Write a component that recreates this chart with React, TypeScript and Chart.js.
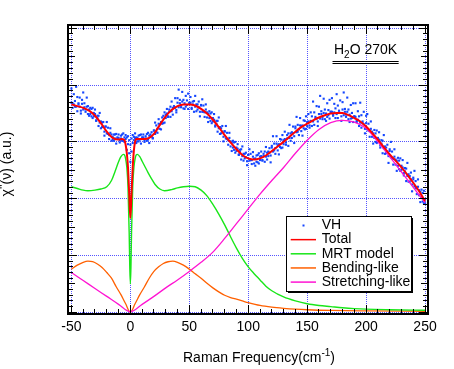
import React, { useEffect, useRef } from "react";
import { Chart, registerables } from "chart.js";

Chart.register(...registerables);

const FONT = "'Liberation Sans', Arial, Helvetica, sans-serif";
const BLUE = "#1446ff";
const RED = "#ff0000";
const GREEN = "#19e619";
const ORANGE = "#ff6000";
const MAGENTA = "#ff14d2";
const GRID = "#5555ff";

// axis ticks / grid
const xTickValues = [-50, 0, 50, 100, 150, 200, 250];
const yGridValues = [0, 1, 2, 3, 4, 5];

// texts
const xTitleMain = "Raman Frequency(cm";
const xTitleSup = "-1";
const xTitleEnd = ")";
const yTitleMain = "\u03c7";
const yTitleSup = "''";
const yTitleEnd = "(\u03bd) (a.u.)";
const sampleA = "H";
const sampleSub = "2";
const sampleB = "O 270K";

// VH measured spectrum (two samples per frequency)
const vhX = [
  -50,-49,-48,-47,-46,-45,-44,-43,-42,-41,-40,-39,-38,-37,-36,-35,-34,-33,-32,-31,
  -30,-29,-28,-27,-26,-25,-24,-23,-22,-21,-20,-19,-18,-17,-16,-15,-14,-13,-12,-11,
  -10,-9,-8,-7,-6,-5,-4,-3,-2,-1,0,1,2,3,4,5,6,7,8,9,
  10,11,12,13,14,15,16,17,18,19,20,21,22,23,24,25,26,27,28,29,
  30,31,32,33,34,35,36,37,38,39,40,41,42,43,44,45,46,47,48,49,
  50,51,52,53,54,55,56,57,58,59,60,61,62,63,64,65,66,67,68,69,
  70,71,72,73,74,75,76,77,78,79,80,81,82,83,84,85,86,87,88,89,
  90,91,92,93,94,95,96,97,98,99,100,101,102,103,104,105,106,107,108,109,
  110,111,112,113,114,115,116,117,118,119,120,121,122,123,124,125,126,127,128,129,
  130,131,132,133,134,135,136,137,138,139,140,141,142,143,144,145,146,147,148,149,
  150,151,152,153,154,155,156,157,158,159,160,161,162,163,164,165,166,167,168,169,
  170,171,172,173,174,175,176,177,178,179,180,181,182,183,184,185,186,187,188,189,
  190,191,192,193,194,195,196,197,198,199,200,201,202,203,204,205,206,207,208,209,
  210,211,212,213,214,215,216,217,218,219,220,221,222,223,224,225,226,227,228,229,
  230,231,232,233,234,235,236,237,238,239,240,241,242,243,244,245,246,247,248,249,
  250,
];
const vhA = [
  3.69,3.60,3.66,3.72,3.62,3.54,3.66,3.62,3.55,3.67,3.57,3.68,3.57,3.62,3.49,3.57,3.49,3.58,3.42,3.51,
  3.49,3.38,3.42,3.46,3.34,3.24,3.34,3.27,3.18,3.27,3.15,3.25,3.12,3.16,3.02,3.09,3.02,3.13,2.97,3.08,
  3.07,2.99,3.06,3.13,3.02,3.00,3.05,2.86,2.96,2.80,2.65,2.83,2.98,3.03,3.07,2.98,3.07,3.01,3.12,2.97,
  3.08,3.08,3.00,3.06,3.14,3.04,2.98,3.13,3.10,3.06,3.20,3.14,3.29,3.23,3.32,3.23,3.35,3.32,3.46,3.34,
  3.48,3.50,3.45,3.53,3.62,3.54,3.48,3.63,3.60,3.56,3.69,3.61,3.74,3.64,3.71,3.59,3.68,3.62,3.73,3.58,
  3.69,3.69,3.60,3.66,3.72,3.62,3.54,3.66,3.61,3.53,3.64,3.53,3.64,3.52,3.57,3.43,3.50,3.42,3.50,3.33,
  3.42,3.39,3.29,3.32,3.37,3.24,3.14,3.24,3.18,3.09,3.18,3.06,3.16,3.03,3.07,2.92,2.99,2.90,2.99,2.81,
  2.90,2.88,2.78,2.82,2.87,2.75,2.67,2.79,2.73,2.66,2.77,2.67,2.79,2.68,2.74,2.62,2.71,2.65,2.77,2.62,
  2.74,2.75,2.68,2.75,2.83,2.74,2.69,2.83,2.81,2.76,2.90,2.83,2.97,2.89,2.97,2.85,2.96,2.91,3.04,2.90,
  3.03,3.05,2.99,3.06,3.15,3.07,3.02,3.17,3.15,3.10,3.24,3.17,3.30,3.22,3.29,3.19,3.29,3.24,3.37,3.23,
  3.35,3.36,3.29,3.37,3.45,3.36,3.30,3.44,3.41,3.36,3.49,3.41,3.54,3.44,3.51,3.40,3.50,3.44,3.56,3.41,
  3.53,3.53,3.46,3.52,3.59,3.49,3.42,3.55,3.51,3.45,3.57,3.47,3.58,3.48,3.53,3.40,3.48,3.41,3.51,3.35,
  3.45,3.44,3.35,3.39,3.45,3.34,3.25,3.36,3.31,3.23,3.33,3.22,3.32,3.19,3.23,3.09,3.15,3.07,3.15,2.98,
  3.07,3.04,2.94,2.97,3.02,2.89,2.79,2.90,2.83,2.75,2.84,2.73,2.83,2.70,2.74,2.60,2.67,2.58,2.67,2.49,
  2.58,2.55,2.45,2.48,2.53,2.40,2.30,2.40,2.34,2.25,2.34,2.22,2.31,2.18,2.21,2.06,2.12,2.02,2.10,1.92,
  1.99,
];
const vhB = [
  3.94,3.68,3.84,3.62,3.97,3.79,3.68,3.78,3.50,3.74,3.87,3.61,3.53,3.78,3.63,3.46,3.60,3.45,3.60,3.45,
  3.57,3.37,3.46,3.28,3.51,3.36,3.26,3.35,3.11,3.27,3.35,3.14,3.05,3.24,3.13,3.04,3.13,3.06,3.14,3.06,
  3.13,3.03,3.11,3.02,3.15,3.08,3.12,3.08,3.10,3.03,2.95,3.06,3.12,3.09,3.15,3.08,3.01,3.11,3.04,3.13,
  3.05,3.13,3.03,3.10,3.02,3.16,3.11,3.09,3.17,3.07,3.20,3.34,3.18,3.16,3.40,3.31,3.22,3.43,3.33,3.52,
  3.42,3.58,3.44,3.57,3.44,3.71,3.60,3.60,3.77,3.52,3.77,3.92,3.68,3.61,3.88,3.74,3.58,3.81,3.65,3.85,
  3.68,3.79,3.58,3.71,3.53,3.81,3.66,3.57,3.71,3.45,3.65,3.75,3.53,3.44,3.66,3.52,3.35,3.54,3.37,3.52,
  3.36,3.49,3.27,3.37,3.18,3.43,3.26,3.15,3.28,3.01,3.19,3.28,3.05,2.95,3.16,3.01,2.84,3.02,2.86,3.00,
  2.84,2.96,2.77,2.86,2.69,2.92,2.79,2.71,2.81,2.59,2.77,2.87,2.68,2.61,2.82,2.70,2.58,2.76,2.64,2.80,
  2.68,2.83,2.67,2.79,2.65,2.91,2.81,2.75,2.89,2.64,2.93,3.10,2.85,2.79,3.10,2.94,2.78,3.05,2.89,3.12,
  2.96,3.18,2.95,3.12,2.93,3.30,3.15,3.07,3.27,2.98,3.27,3.44,3.18,3.12,3.42,3.28,3.11,3.38,3.22,3.45,
  3.28,3.49,3.25,3.52,3.28,3.71,3.52,3.41,3.63,3.28,3.62,3.81,3.49,3.40,3.76,3.57,3.37,3.68,3.47,3.74,
  3.53,3.77,3.48,3.67,3.42,3.84,3.64,3.52,3.73,3.37,3.70,3.87,3.53,3.44,3.78,3.57,3.35,3.65,3.42,3.68,
  3.45,3.68,3.37,3.54,3.28,3.69,3.47,3.33,3.53,3.15,3.46,3.49,3.20,3.09,3.36,3.18,2.97,3.21,3.00,3.20,
  3.00,3.17,2.90,3.03,2.80,3.12,2.92,2.80,2.95,2.63,2.87,3.00,2.71,2.60,2.87,2.69,2.49,2.72,2.52,2.71,
  2.51,2.68,2.41,2.54,2.31,2.63,2.43,2.30,2.46,2.13,2.37,2.49,2.19,2.08,2.34,2.15,1.94,2.16,1.95,2.14,
  1.92,
];

// Total fit
const totalX = [-50,-45,-40,-35,-30,-25,-20,-15,-10,-7,-5,-4,-3,-2,-1,0,1,2,3,4,5,8,12,16,20,
  25,30,35,40,45,50,55,60,65,70,75,80,85,90,95,100,105,110,115,120,125,130,135,140,145,150,
  155,160,165,170,175,180,185,190,195,200,205,210,215,220,225,230,235,240,245,250];
const totalY = [3.66,3.63,3.60,3.55,3.46,3.33,3.18,3.07,3.04,3.05,3.03,2.95,2.80,2.55,2.10,1.66,2.10,2.55,2.85,3.00,3.05,3.05,3.05,3.07,3.14,
  3.30,3.45,3.56,3.63,3.66,3.66,3.64,3.58,3.50,3.39,3.26,3.12,2.99,2.87,2.77,2.71,2.69,2.71,2.76,2.84,2.92,3.00,3.09,3.18,3.26,3.32,
  3.38,3.43,3.47,3.50,3.51,3.51,3.47,3.42,3.36,3.27,3.16,3.04,2.91,2.78,2.67,2.55,2.42,2.28,2.13,1.96];

// MRT model
const mrtX = [-50,-45,-40,-36,-30,-25,-20,-16,-13,-10,-8,-6,-5,-4,-3,-2,-1,-0.5,0,0.5,
  1,2,3,4,5,6,8,10,12,15,18,21,25,29,35,40,45,50,55,60,
  65,70,75,80,85,90,95,100,105,110,115,120,130,140,150,160,170,180,190,200,220,250];
const mrtY = [2.21,2.18,2.15,2.14,2.15,2.17,2.21,2.32,2.48,2.65,2.74,2.78,2.77,2.70,2.55,2.20,1.40,0.80,0.50,0.80,
  1.40,2.20,2.55,2.70,2.77,2.78,2.74,2.66,2.58,2.46,2.35,2.25,2.17,2.14,2.16,2.19,2.21,2.22,2.21,2.15,
  2.05,1.90,1.73,1.54,1.33,1.13,0.95,0.80,0.68,0.57,0.46,0.38,0.27,0.20,0.15,0.12,0.10,0.08,0.065,0.055,0.045,0.035];

// Bending-like
const bendX = [-50,-45,-40,-36,-32,-28,-24,-20,-16,-12,-8,-4,0,4,8,12,16,20,24,28,32,36,
  40,45,50,55,60,65,70,75,80,85,90,95,100,110,120,130,140,150,170,200,250];
const bendY = [0.76,0.83,0.88,0.90,0.89,0.85,0.79,0.70,0.60,0.45,0.31,0.15,0.0,0.15,0.31,0.45,0.60,0.72,0.80,0.86,0.89,0.90,
  0.88,0.83,0.76,0.68,0.60,0.51,0.43,0.36,0.30,0.26,0.23,0.20,0.17,0.12,0.09,0.07,0.055,0.045,0.033,0.025,0.018];

// Stretching-like
const stretchX = [-50,-40,-30,-20,-10,0,10,20,30,40,50,60,70,80,90,100,110,120,130,140,150,160,170,180,190,200,210,220,230,240,250];
const stretchY = [0.70,0.56,0.42,0.28,0.14,0.01,0.14,0.28,0.43,0.57,0.72,0.88,1.06,1.30,1.56,1.82,2.08,2.32,2.55,2.80,3.03,3.22,3.34,3.38,3.35,3.24,3.00,2.74,2.47,2.20,1.93];

const zip = (xs: number[], ys: number[]) => xs.map((x, i) => ({ x, y: ys[i] }));

const gridPlugin = {
  id: "dotgrid",
  beforeDatasetsDraw(chart: any) {
    const { ctx, chartArea: a, scales } = chart;
    ctx.save();
    ctx.fillStyle = GRID;
    const top = Math.round(a.top);
    const bottom = Math.round(a.bottom);
    const left = Math.round(a.left);
    const right = Math.round(a.right);
    xTickValues.forEach((v) => {
      const px = Math.round(scales.x.getPixelForValue(v) - 0.5);
      for (let y = top; y < bottom; y += 2) ctx.fillRect(px, y, 1, 1);
    });
    yGridValues.forEach((v) => {
      const py = Math.round(scales.y.getPixelForValue(v) - 0.5);
      for (let x = left; x < right; x += 2) ctx.fillRect(x, py, 1, 1);
    });
    ctx.restore();
  },
};

const decorPlugin = {
  id: "decor",
  afterDatasetsDraw(chart: any) {
    const { ctx, chartArea: a, scales } = chart;
    const xs = scales.x;
    const ys = scales.y;
    ctx.save();
    const line = (x1: number, y1: number, x2: number, y2: number) => {
      ctx.beginPath();
      ctx.moveTo(x1, y1);
      ctx.lineTo(x2, y2);
      ctx.stroke();
    };
    // ticks (inward)
    ctx.strokeStyle = "#000";
    ctx.lineWidth = 1;
    const xStart = xTickValues[0];
    const xEnd = xTickValues[xTickValues.length - 1];
    for (let v = xStart; v <= xEnd; v += 10) {
      const px = Math.round(xs.getPixelForValue(v) - 0.5) + 0.5;
      const len = v % 50 === 0 ? 9 : 5;
      line(px, a.bottom, px, a.bottom - len);
      line(px, a.top, px, a.top + len);
    }
    const yEnd = yGridValues[yGridValues.length - 1];
    for (let i = 0; i <= yEnd * 10; i++) {
      const py = Math.round(ys.getPixelForValue(i / 10) - 0.5) + 0.5;
      const len = i % 10 === 0 ? 9 : i % 5 === 0 ? 7 : 5;
      line(a.left, py, a.left + len, py);
      line(a.right, py, a.right - len, py);
    }
    // frame
    ctx.lineWidth = 2;
    ctx.strokeRect(a.left, a.top, a.right - a.left, a.bottom - a.top);

    // sample annotation
    ctx.fillStyle = "#000";
    ctx.textBaseline = "alphabetic";
    ctx.textAlign = "left";
    const big = `14px ${FONT}`;
    const small = `10px ${FONT}`;
    let tx = 334;
    const tb = 53.5;
    ctx.font = big;
    ctx.fillText(sampleA, tx, tb);
    tx += ctx.measureText(sampleA).width;
    ctx.font = small;
    ctx.fillText(sampleSub, tx, tb + 4);
    tx += ctx.measureText(sampleSub).width;
    ctx.font = big;
    ctx.fillText(sampleB, tx, tb);
    tx += ctx.measureText(sampleB).width;
    ctx.fillRect(332.5, 61, tx - 332.5 + 1.5, 1);
    ctx.fillRect(332.5, 63, tx - 332.5 + 1.5, 1);

    // legend
    const lx = 286.5, ly = 216.5, lw = 125, lh = 75;
    ctx.fillStyle = "#fff";
    ctx.fillRect(lx, ly, lw, lh);
    ctx.strokeStyle = "#000";
    ctx.lineWidth = 1;
    ctx.strokeRect(lx, ly, lw, lh);
    ctx.fillStyle = "#000";
    ctx.fillRect(lx + lw + 0.5, ly + 1.5, 1, lh);
    ctx.fillRect(lx + 1.5, ly + lh + 0.5, lw, 1);
    ctx.font = big;
    chart.data.datasets.forEach((ds: any, i: number) => {
      const base = 229.3 + i * 14.15;
      const my = base - 3.8;
      if (ds.showLine === false) {
        ctx.fillStyle = ds.backgroundColor;
        ctx.fillRect(302.5, my - 1, 2, 2);
      } else {
        ctx.strokeStyle = ds.borderColor;
        ctx.lineWidth = 1.5;
        line(290.7, my, 316, my);
      }
      ctx.fillStyle = "#000";
      ctx.fillText(ds.label, 321.7, base);
    });

    // x title
    const xt = `14px ${FONT}`;
    const xs2 = `10px ${FONT}`;
    ctx.font = xt;
    const w1 = ctx.measureText(xTitleMain).width;
    const w3 = ctx.measureText(xTitleEnd).width;
    ctx.font = xs2;
    const w2 = ctx.measureText(xTitleSup).width;
    let sx = 259 - (w1 + w2 + w3) / 2;
    const xb = 362;
    ctx.font = xt;
    ctx.fillText(xTitleMain, sx, xb);
    sx += w1;
    ctx.font = xs2;
    ctx.fillText(xTitleSup, sx, xb - 6);
    sx += w2;
    ctx.font = xt;
    ctx.fillText(xTitleEnd, sx, xb);

    // y title (rotated)
    ctx.save();
    ctx.translate(10.5, 164);
    ctx.rotate(-Math.PI / 2);
    const yt = `14px ${FONT}`;
    const ysup = `12px ${FONT}`;
    ctx.font = yt;
    const a1 = ctx.measureText(yTitleMain).width;
    const a3 = ctx.measureText(yTitleEnd).width;
    ctx.font = ysup;
    const a2 = ctx.measureText(yTitleSup).width;
    let ry = -(a1 + a2 + a3) / 2;
    ctx.font = yt;
    ctx.fillText(yTitleMain, ry, 0);
    ry += a1;
    ctx.font = ysup;
    ctx.fillText(yTitleSup, ry, -3);
    ry += a2;
    ctx.font = yt;
    ctx.fillText(yTitleEnd, ry, 0);
    ctx.restore();

    ctx.restore();
  },
};

export default function App() {
  const ref = useRef<HTMLCanvasElement>(null);
  useEffect(() => {
    const canvas = ref.current;
    if (!canvas) return;
    const lineDs = (label: string, xs: number[], ys: number[], color: string, width: number, order: number) => ({
      label,
      data: zip(xs, ys),
      showLine: true,
      borderColor: color,
      backgroundColor: color,
      borderWidth: width,
      pointRadius: 0,
      cubicInterpolationMode: "monotone" as const,
      order,
    });
    const vhData = vhX.flatMap((x, i) => [
      { x, y: vhA[i] },
      { x, y: vhB[i] },
    ]);
    const chart = new Chart(canvas, {
      type: "scatter",
      data: {
        datasets: [
          {
            label: "VH",
            data: vhData,
            showLine: false,
            pointStyle: "rect",
            pointRadius: 1.5,
            pointBorderWidth: 0,
            backgroundColor: BLUE,
            borderColor: BLUE,
            order: 6,
          } as any,
          lineDs("Total", totalX, totalY, RED, 2, 1),
          lineDs("MRT model", mrtX, mrtY, GREEN, 1.4, 3),
          lineDs("Bending-like", bendX, bendY, ORANGE, 1.3, 4),
          lineDs("Stretching-like", stretchX, stretchY, MAGENTA, 1.3, 2),
        ],
      },
      options: {
        animation: false,
        responsive: false,
        devicePixelRatio: 1,
        events: [],
        layout: { padding: { left: 68, right: 26, top: 25, bottom: 0 } },
        plugins: { legend: { display: false }, tooltip: { enabled: false } },
        scales: {
          x: {
            type: "linear",
            min: -52.9,
            max: 252.5,
            afterBuildTicks: (s: any) => {
              s.ticks = xTickValues.map((v) => ({ value: v }));
            },
            afterFit: (s: any) => {
              s.height = 55;
            },
            ticks: {
              color: "#000",
              font: { family: FONT, size: 14 },
              padding: 5,
              maxRotation: 0,
              autoSkip: false,
              callback: (v: any) => String(v),
            },
            grid: { display: false, drawTicks: false },
            border: { display: false },
          },
          y: {
            type: "linear",
            min: -0.03,
            max: 5.058,
            afterBuildTicks: (s: any) => {
              s.ticks = yGridValues.map((v) => ({ value: v }));
            },
            afterFit: (s: any) => {
              s.width = 0;
            },
            ticks: { display: false },
            grid: { display: false, drawTicks: false },
            border: { display: false },
          },
        },
      } as any,
      plugins: [gridPlugin, decorPlugin],
    });
    return () => chart.destroy();
  }, []);
  return (
    <div style={{ position: "absolute", left: 0, top: 0, width: 454, height: 369, background: "#fff" }}>
      <canvas ref={ref} width={454} height={369} style={{ display: "block", width: 454, height: 369 }} />
    </div>
  );
}
